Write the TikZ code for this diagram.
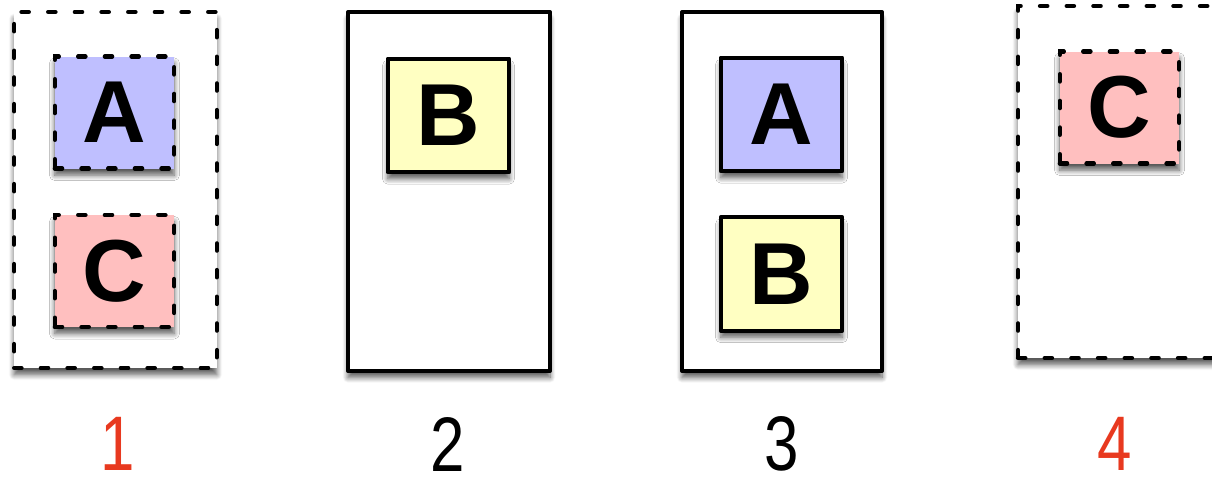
\documentclass[tikz,border=0pt]{standalone}
\usepackage{fontspec}
\usepackage{graphicx}
\setmainfont{Liberation Sans}
\usetikzlibrary{shadows.blur}
\definecolor{boxA}{HTML}{BFBFFF}
\definecolor{boxB}{HTML}{FFFFC2}
\definecolor{boxC}{HTML}{FFBFBF}
\definecolor{labred}{HTML}{E8391F}
\newcommand\cnd[1]{\scalebox{0.8}[1]{#1}}
\tikzset{
  dsh/.style={line width=3.2pt, line cap=round, dash pattern=on 5.5pt off 14.5pt},
  sol/.style={line width=3.2pt, line join=round},
  shd/.style={blur shadow={shadow xshift=0pt, shadow yshift=-5pt, shadow blur steps=8, shadow opacity=65, shadow blur radius=4pt}},
  outer/.style={draw, fill=white, shd, inner sep=0pt},
  inner/.style={draw, shd, inner sep=0pt, minimum width=89.5pt, minimum height=84pt,
    font=\fontsize{66}{66}\selectfont\bfseries},
  lab/.style={font=\fontsize{58}{58}\selectfont, inner sep=1pt},
}
\begin{document}
\begin{tikzpicture}[x=0.75pt,y=-0.75pt]
\useasboundingbox (0,0) rectangle (1212,483);
% outer boxes
\node[outer, dsh, minimum width=152pt, minimum height=267pt] (b1) at (115.5,190) {};
\node[outer, sol, minimum width=151.5pt, minimum height=269pt] (b2) at (449,191.5) {};
\node[outer, sol, minimum width=150pt, minimum height=269pt] (b3) at (782,191.5) {};
\node[outer, dsh, minimum width=159pt, minimum height=264pt] (b4) at (1124,182) {};
% inner boxes
\node[inner, dsh, fill=boxA] (a1) at (114.5,112.5) {A};
\node[inner, dsh, fill=boxC] (c1) at (114.5,271) {C};
\node[inner, sol, fill=boxB, minimum width=91pt, minimum height=85pt] (bb2) at (448.5,115.5) {B};
\node[inner, sol, fill=boxA, minimum width=91pt, minimum height=85pt] (a3) at (781.5,114.5) {A};
\node[inner, sol, fill=boxB, minimum width=91pt, minimum height=85pt] (bb3) at (781.5,274) {B};
\node[inner, dsh, fill=boxC] (c4) at (1119.5,107.5) {C};
% labels
\node[lab, text=labred] (l1) at (118,444) {\cnd{1}};
\node[lab] (l2) at (448,444) {\cnd{2}};
\node[lab] (l3) at (782,444) {\cnd{3}};
\node[lab, text=labred] (l4) at (1115,444) {\cnd{4}};
\end{tikzpicture}
\end{document}
